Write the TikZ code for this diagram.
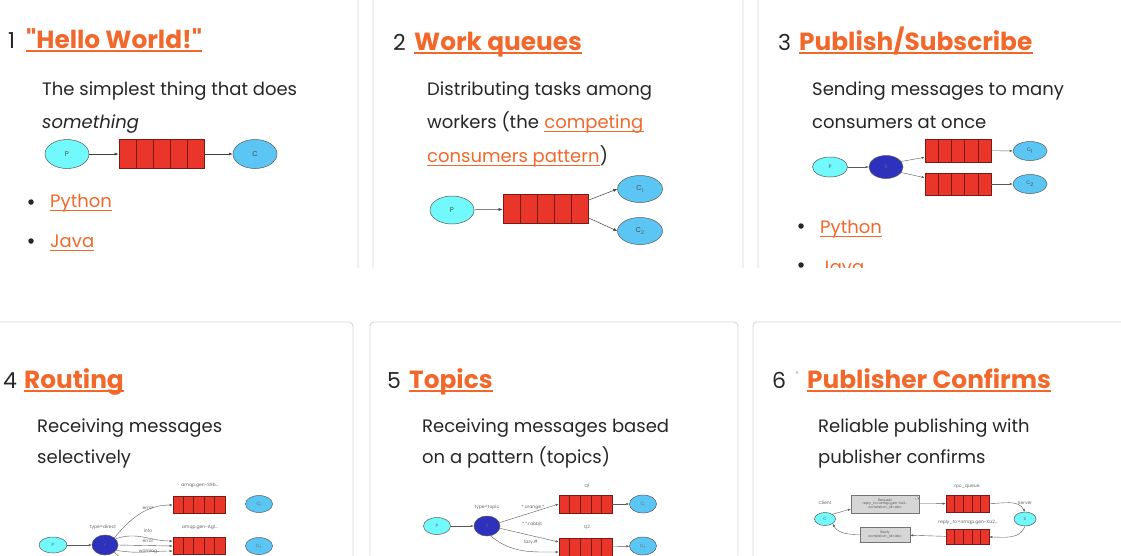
\documentclass[tikz,border=0pt]{standalone}
\usepackage{fontspec}
\setmainfont{Poppins}[Ligatures=TeXOff]
\usetikzlibrary{calc,shapes.geometric,arrows.meta}
\definecolor{rorange}{HTML}{F2672A}
\definecolor{rtext}{HTML}{262626}
\definecolor{rborder}{HTML}{D6D6D6}
\definecolor{qred}{HTML}{E9352A}
\definecolor{qborder}{HTML}{7A1A14}
\definecolor{pcyan}{HTML}{72F9FB}
\definecolor{cblue}{HTML}{5BC6F4}
\definecolor{xblue}{HTML}{2E30BE}
\definecolor{msggray}{HTML}{D6D6D6}
\newcommand{\ulline}[2]{\draw[ul,line width=#2] ($(#1.base west)+(0,3)$) -- ($(#1.base east)+(0,3)$);}
\newcommand{\qdivs}[1]{\foreach \i in {1,...,4} \draw[qdiv] ($(#1.north west)!\i/5!(#1.north east)$) -- ($(#1.south west)!\i/5!(#1.south east)$);}
\begin{document}
\begin{tikzpicture}[x=1pt,y=-1pt,
  num/.style={font=\fontsize{22}{26}\selectfont, text=rtext, inner sep=0, anchor=base west},
  ttl/.style={font=\fontsize{24.8}{28}\selectfont\bfseries, text=rorange, inner sep=0, anchor=base west},
  body/.style={font=\fontsize{18}{22}\selectfont, text=rtext, inner sep=0, anchor=base west},
  link/.style={body, text=rorange},
  ul/.style={draw=rorange},
  card/.style={draw=rborder, line width=0.9pt, rounded corners=4pt},
  dot/.style={circle, fill=rtext, inner sep=0, minimum size=5.5},
  prod/.style={ellipse, draw=black!65, fill=pcyan, line width=0.5pt, inner sep=0, text=black!70},
  cons/.style={ellipse, draw=black!65, fill=cblue, line width=0.5pt, inner sep=0, text=black!70},
  exch/.style={ellipse, draw=black!65, fill=xblue, line width=0.5pt, inner sep=0, text=black!60},
  queue/.style={rectangle, draw=qborder, fill=qred, line width=0.6pt, inner sep=0},
  qdiv/.style={draw=qborder, line width=0.6pt},
  arr/.style={-{Latex[length=4pt,width=3pt]}, draw=black!75, line width=0.5pt},
  sarr/.style={-{Latex[length=3pt,width=2.2pt]}, draw=black!65, line width=0.4pt},
  lbl/.style={font=\fontsize{4.5}{5}\selectfont, text=black!60, inner sep=0},
  msg/.style={rectangle, draw=black!55, fill=msggray, line width=0.4pt, inner sep=0.5pt, align=center, font=\fontsize{3.4}{3.8}\selectfont, text=black!65},
  big/.style={font=\fontsize{7}{8}\selectfont},
  small/.style={font=\fontsize{5}{6}\selectfont}
]
\useasboundingbox (0,0) rectangle (1121,555);
\fill[white] (0,0) rectangle (1121,555);
\clip (0,0) rectangle (1121,555);

% ---------------- top row ----------------
\begin{scope}
\clip (-5,-5) rectangle (1130,267);
\draw[card] (-10,-20) rectangle (358,300);
\draw[card] (373,-20) rectangle (743,300);
\draw[card] (758,-20) rectangle (1140,300);

% card 1
\node[num] (n1) at (8,48) {1};
\node[ttl] (t1) at (26,48) {"Hello World!"};
\ulline{t1}{1.5pt}
\node[body] (b11) at (42,95) {The simplest thing that does};
\node[body, font=\fontsize{18}{22}\selectfont\itshape] (b12) at (42,128) {something};
\node[prod, minimum width=44, minimum height=29, big] (p1) at (67,154) {P};
\node[queue, minimum width=85, minimum height=29] (q1) at (161.5,154) {};
\qdivs{q1}
\node[cons, minimum width=44, minimum height=29, big] (c1) at (255,154) {C};
\draw[arr] (p1) -- (q1);
\draw[arr] (q1) -- (c1);
\node[dot] (d11) at (31,202) {};
\node[link] (py1) at (50,207) {Python};
\ulline{py1}{0.9pt}
\node[dot] (d12) at (31,241) {};
\node[link] (ja1) at (50,247) {Java};
\ulline{ja1}{0.9pt}

% card 2
\node[num] (n2) at (393,50) {2};
\node[ttl] (t2) at (414,50) {Work queues};
\ulline{t2}{1.5pt}
\node[body] (b21) at (427,95) {Distributing tasks among};
\node[body] (b22) at (427,128) {workers (the};
\node[link] (l22) at ($(b22.base east)+(5,0)$) {competing};
\ulline{l22}{0.9pt}
\node[link] (l23) at (427,162) {consumers pattern};
\ulline{l23}{0.9pt}
\node[body] (b23) at (l23.base east) {)};
\node[prod, minimum width=44, minimum height=28, big] (p2) at (452,210) {P};
\node[queue, minimum width=85, minimum height=29] (q2) at (545.5,209) {};
\qdivs{q2}
\node[cons, minimum width=45, minimum height=27, big] (c21) at (640,189) {C\textsubscript{1}};
\node[cons, minimum width=45, minimum height=27, big] (c22) at (640,231) {C\textsubscript{2}};
\draw[arr] (p2) -- (q2);
\draw[arr] ($(q2.north east)+(0,6)$) -- (c21.west);
\draw[arr] ($(q2.south east)+(0,-6)$) -- (c22.west);

% card 3
\node[num] (n3) at (778,50) {3};
\node[ttl] (t3) at (799,50) {Publish/Subscribe};
\ulline{t3}{1.5pt}
\node[body] (b31) at (812,95) {Sending messages to many};
\node[body] (b32) at (812,128) {consumers at once};
\node[prod, minimum width=35, minimum height=20, small] (p3) at (830,167) {P};
\node[exch, minimum width=34, minimum height=23, small] (x3) at (886,167) {X};
\node[queue, minimum width=66, minimum height=23] (q31) at (958,150.5) {};
\qdivs{q31}
\node[queue, minimum width=66, minimum height=22] (q32) at (958,184) {};
\qdivs{q32}
\node[cons, minimum width=34, minimum height=19, small] (c31) at (1030,151) {C\textsubscript{1}};
\node[cons, minimum width=34, minimum height=19, small] (c32) at (1030,184) {C\textsubscript{2}};
\draw[sarr] (p3) -- (x3);
\draw[sarr] (x3.20) -- ($(q31.south west)+(0,-5)$);
\draw[sarr] (x3.-20) -- ($(q32.north west)+(0,5)$);
\draw[sarr] (q31) -- (c31);
\draw[sarr] (q32) -- (c32);
\node[dot] (d31) at (801,226) {};
\node[link] (py3) at (820,233) {Python};
\ulline{py3}{0.9pt}
\node[dot] (d32) at (801,265) {};
\node[link] (ja3) at (820,273) {Java};
\ulline{ja3}{0.9pt}
\end{scope}

% ---------------- bottom row ----------------
\draw[card] (-10,322) rectangle (353,580);
\draw[card] (370,322) rectangle (738,580);
\draw[card] (753,322) rectangle (1140,580);

% card 4
\node[num] (n4) at (3,388) {4};
\node[ttl] (t4) at (24,388) {Routing};
\ulline{t4}{1.5pt}
\node[body] (b41) at (37,432) {Receiving messages};
\node[body] (b42) at (37,463) {selectively};
\node[prod, minimum width=28, minimum height=16, lbl] (p4) at (53,545) {P};
\node[exch, minimum width=26, minimum height=20, lbl] (x4) at (105,545) {X};
\node[queue, minimum width=52, minimum height=17] (q41) at (199,505) {};
\qdivs{q41}
\node[queue, minimum width=52, minimum height=17] (q42) at (199,546) {};
\qdivs{q42}
\node[cons, minimum width=27, minimum height=17, lbl] (c41) at (259,504) {C\textsubscript{1}};
\node[cons, minimum width=27, minimum height=17, lbl] (c42) at (259,546) {C\textsubscript{2}};
\coordinate (q43w) at (173,590);
\draw[sarr] (p4) -- (x4);
\draw[sarr] (x4.north east) to[out=50,in=180] (q41.west);
\draw[sarr] (x4.30) to[out=20,in=180] ($(q42.west)+(0,-5)$);
\draw[sarr] (x4.east) -- (q42.west);
\draw[sarr] (x4.-25) to[out=-10,in=180] ($(q42.west)+(0,5)$);
\draw[sarr] (x4.south east) to[out=-40,in=180] (q43w);
\node[lbl] (l41) at (200,485) {amqp.gen-S9b...};
\node[lbl] (l42) at (148,508) {error};
\node[lbl] (l43) at (103,527) {type=direct};
\node[lbl] (l44) at (200,527) {amqp.gen-Ag1...};
\node[lbl] (l45) at (148,531) {info};
\node[lbl] (l46) at (148,541) {error};
\node[lbl] (l47) at (148,551) {warning};

% card 5
\node[num] (n5) at (387,388) {5};
\node[ttl] (t5) at (409,388) {Topics};
\ulline{t5}{1.5pt}
\node[body] (b51) at (422,432) {Receiving messages based};
\node[body] (b52) at (422,463) {on a pattern (topics)};
\node[prod, minimum width=27, minimum height=17, lbl] (p5) at (437,526) {P};
\node[exch, minimum width=26, minimum height=20, lbl] (x5) at (487,526) {X};
\node[queue, minimum width=53, minimum height=18] (q51) at (585.5,504) {};
\qdivs{q51}
\node[queue, minimum width=53, minimum height=18] (q52) at (585.5,547) {};
\qdivs{q52}
\node[cons, minimum width=27, minimum height=18, lbl] (c51) at (643,504) {C\textsubscript{1}};
\node[cons, minimum width=27, minimum height=18, lbl] (c52) at (643,546) {C\textsubscript{2}};
\draw[sarr] (p5) -- (x5);
\draw[sarr] (x5.15) -- (q51.west);
\draw[sarr] (x5.-10) -- ($(q52.west)+(0,-5)$);
\draw[sarr] (x5.-70) to[out=-40,in=180] ($(q52.west)+(0,5)$);
\draw[sarr] (q51) -- (c51);
\draw[sarr] (q52) -- (c52);
\node[lbl] (l51) at (587,486) {Q1};
\node[lbl] (l52) at (487,507) {type=topic};
\node[lbl] (l53) at (533,507) {*.orange.*};
\node[lbl] (l54) at (532,524) {*.*.rabbit};
\node[lbl] (l55) at (587,527) {Q2};
\node[lbl] (l56) at (531,542) {lazy.\#};

% card 6
\node[num] (n6) at (772,388) {6};
\node[num, text=black!50, font=\fontsize{12}{14}\selectfont] (n6b) at (796,381) {'};
\node[ttl] (t6) at (807,388) {Publisher Confirms};
\ulline{t6}{1.5pt}
\node[body] (b61) at (818,432) {Reliable publishing with};
\node[body] (b62) at (818,463) {publisher confirms};
\node[prod, minimum width=21, minimum height=13, lbl] (cc) at (825,519) {C};
\node[prod, minimum width=22, minimum height=14, lbl] (ss) at (1025,519) {S};
\node[lbl] (l61) at (825,503) {Client};
\node[lbl] (l62) at (1025,503) {Server};
\node[lbl] (l63) at (967,487) {rpc\_queue};
\node[lbl] (l64) at (968,522) {reply\_to=amqp.gen-Xa2...};
\node[msg, minimum width=68, minimum height=18] (req) at (885,504) {Request\\reply\_to=amqp.gen-Xa2...\\correlation\_id=abc};
\draw[draw=black!55, line width=0.4pt, fill=white] ($(req.north east)+(-4,0)$) -- ($(req.north east)+(0,4)$) -- ($(req.north east)+(-4,4)$) -- cycle;
\node[msg, minimum width=50, minimum height=15] (rep) at (885,534.5) {Reply\\correlation\_id=abc};
\node[queue, minimum width=43, minimum height=17] (q61) at (967.5,503.5) {};
\qdivs{q61}
\node[queue, minimum width=43, minimum height=15] (q62) at (967.5,537) {};
\qdivs{q62}
\draw[sarr] (cc.north east) -- ($(req.west)+(0,5)$);
\draw[sarr] (req) -- (q61);
\draw[sarr] (q61.east) to[out=0,in=120] (ss.north);
\draw[sarr] (ss.south) to[out=-110,in=0] (q62.east);
\draw[sarr] (q62) -- (rep);
\draw[sarr] (rep.west) to[out=180,in=-60] (cc.south east);
\end{tikzpicture}
\end{document}
